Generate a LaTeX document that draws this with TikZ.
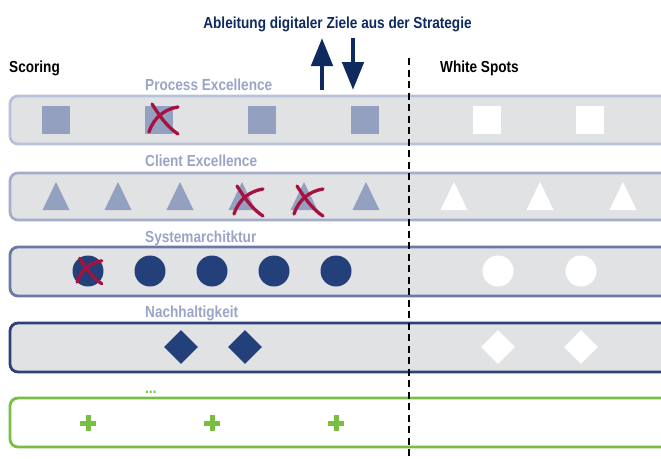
\documentclass[tikz,border=0pt]{standalone}
\usepackage{fontspec}
\setmainfont{Liberation Sans}[FakeStretch=0.85]
\usetikzlibrary{shapes.geometric,arrows.meta}

\definecolor{bandfill}{HTML}{E1E2E4}
\definecolor{lineA}{HTML}{B9C0DA}
\definecolor{lineB}{HTML}{A5ADCC}
\definecolor{lineC}{HTML}{6C79A8}
\definecolor{lineD}{HTML}{2B4377}
\definecolor{shapelight}{HTML}{94A0C0}
\definecolor{shapedark}{HTML}{24407A}
\definecolor{labelc}{HTML}{9AA4C6}
\definecolor{titlec}{HTML}{0E2A5E}
\definecolor{crossc}{HTML}{A6113F}
\definecolor{greenc}{HTML}{78BE43}

\tikzset{
  band/.style={rounded corners=8pt, line width=2.8pt},
  sq/.style={rectangle, minimum size=28pt, inner sep=0pt},
  dot/.style={circle, minimum size=31pt, inner sep=0pt},
  dia/.style={diamond, minimum width=34pt, minimum height=34pt, inner sep=0pt},
  catlabel/.style={font=\bfseries\fontsize{16}{19}\selectfont, text=labelc, anchor=base west, inner sep=0pt},
  headlabel/.style={font=\bfseries\fontsize{16}{19}\selectfont, anchor=base west, inner sep=0pt},
  bigarrow/.style={titlec, line width=4.8pt, -{Triangle[width=21pt,length=28pt]}},
  tri/.pic={\fill (-13.5,14) -- (0,-14) -- (13.5,14) -- cycle;},
  xmark/.pic={
    \draw[crossc, line width=3.3pt, line cap=round]
      (-11,-15) .. controls (-4,-4) and (4,8) .. (15,15)
      (15,-12) .. controls (2,-10) and (-9,-2) .. (-14,13);},
  plus/.pic={\draw[greenc, line width=5pt] (-8,0) -- (8,0) (0,-8) -- (0,8);}
}

\begin{document}
\begin{tikzpicture}[x=1pt,y=-1pt]
\useasboundingbox (0,0) rectangle (661,458);
\clip (0,0) rectangle (661,458);

% headings
\node[headlabel, text=titlec, anchor=base] (title) at (337.5,28) {Ableitung digitaler Ziele aus der Strategie};
\node[headlabel, text=black] (scoring) at (9,72) {Scoring};
\node[headlabel, text=black] (spots) at (440,72) {White Spots};

% up / down arrows
\coordinate (upS) at (322,90);
\coordinate (upE) at (322,38);
\coordinate (dnS) at (353,38);
\coordinate (dnE) at (353,90);
\draw[bigarrow] (upS) -- (upE);
\draw[bigarrow] (dnS) -- (dnE);

% category bands
\draw[band, draw=lineA, fill=bandfill] (10,96) rectangle (672,144);
\draw[band, draw=lineB, fill=bandfill] (10,173) rectangle (672,220);
\draw[band, draw=lineC, fill=bandfill] (10,247) rectangle (672,296);
\draw[band, draw=lineD, fill=bandfill] (10,323) rectangle (672,372);
\draw[band, draw=greenc, fill=white] (10,398) rectangle (672,447);

% category labels
\node[catlabel] (lp) at (145,90) {Process Excellence};
\node[catlabel] (lc) at (145,166) {Client Excellence};
\node[catlabel] (ls) at (145,242) {Systemarchitktur};
\node[catlabel] (ln) at (145,317) {Nachhaltigkeit};
\node[catlabel, text=greenc] (lm) at (145,393) {...};

% Process Excellence: squares
\foreach \x/\n in {56/1,159/2,262/3,365/4}
  \node[sq, fill=shapelight] (p\n) at (\x,120) {};
\foreach \x/\n in {487/1,590/2}
  \node[sq, fill=white] (pw\n) at (\x,120) {};

% Client Excellence: triangles
\foreach \x in {56,118,180,242,304,366}
  \pic[fill=shapelight] at (\x,196) {tri};
\foreach \x in {454,540,623}
  \pic[fill=white] at (\x,196) {tri};

% Systemarchitktur: circles
\foreach \x/\n in {88/1,150/2,212/3,274/4,336/5}
  \node[dot, fill=shapedark] (s\n) at (\x,271) {};
\foreach \x/\n in {498/1,581/2}
  \node[dot, fill=white] (sw\n) at (\x,271) {};

% Nachhaltigkeit: diamonds
\foreach \x/\n in {181/1,245/2}
  \node[dia, fill=shapedark] (n\n) at (\x,347) {};
\foreach \x/\n in {498/1,581/2}
  \node[dia, fill=white] (nw\n) at (\x,347) {};

% open slots
\foreach \x in {88,212,336}
  \pic at (\x,423) {plus};

% struck-out items
\pic at (163,119) {xmark};
\pic at (248,201) {xmark};
\pic at (308,201) {xmark};
\pic[scale=0.85] at (89,271) {xmark};

% separator
\coordinate (dtop) at (409,58);
\coordinate (dbot) at (409,460);
\draw[black, line width=2pt, dash pattern=on 7pt off 4.5pt] (dtop) -- (dbot);
\end{tikzpicture}
\end{document}
